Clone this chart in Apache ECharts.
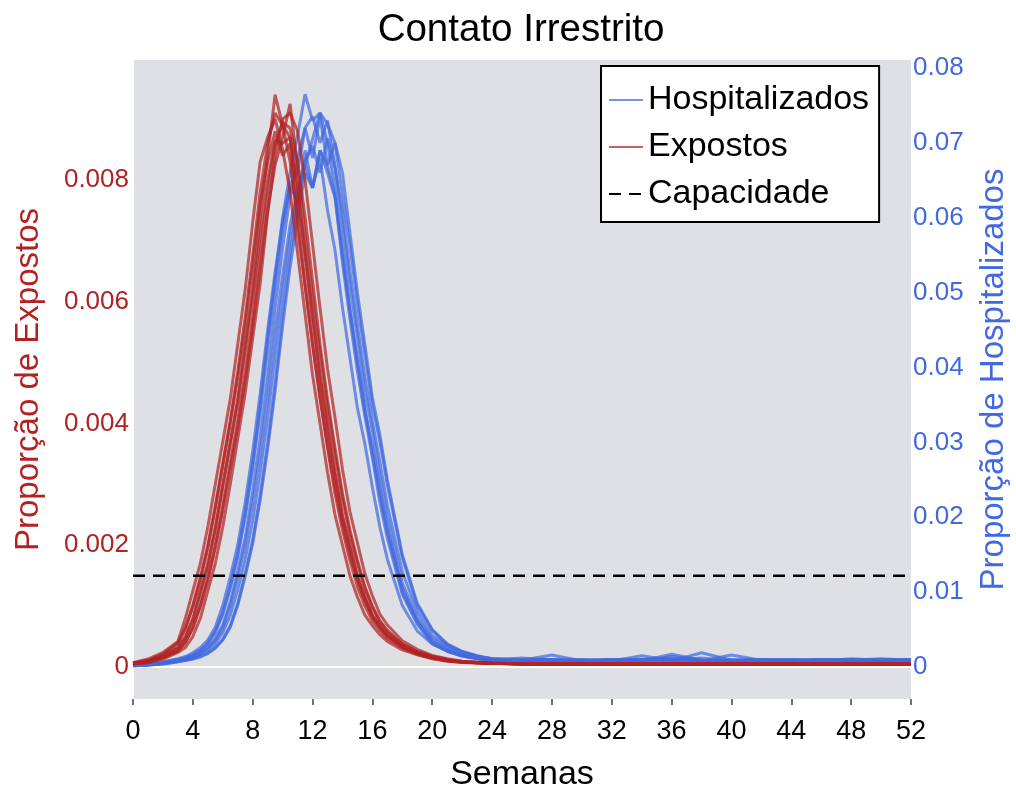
<!DOCTYPE html>
<html><head><meta charset="utf-8">
<script src="https://cdn.jsdelivr.net/npm/echarts@6/dist/echarts.min.js"></script>
<style>html,body{margin:0;padding:0;background:#fff}#c{width:1016px;height:798px}</style>
</head><body><div id="c"></div>
<script>
// Semanas (eixo x)
const weeks = [0,1,2,3, 3.5,4,4.5,5,5.5,6,6.5,7, 7.5,8,8.5,9,9.5,10,10.5,11, 11.5,12,12.5,13,13.5,14,14.5,15, 15.5,16,16.5,17, 18,19,20,21,22,23,24, 26,28,30,32,34,36,38,40,42,44,46,48,50,52];

// Proporção de Expostos, em unidades de 1e-4
const EXP_UNIT = 1e-4;
const expostos1 = [0.7,1.3,2.4,4.2, 8,12.5,17,23,30,37,44,53, 62,73,83,87,90,85,78,68, 58,48,40,32,25,20,15,11.5, 8.5,6.8,5.3,4.2, 2.8,2.0,1.35,0.95,0.75,0.65,0.6, 0.5,0.5,0.45,0.5,0.55,0.5,0.45,0.5,0.5,0.5,0.45,0.5,0.5,0.5];
const expostos2 = [0.65,1.1,2.1,4.0, 6.5,10.2,14.7,20,26.5,33.5,40.5,48.5, 57.5,67.5,78,86,91,89,83,74, 63,53,44,36,28.5,22.5,17.5,13.2, 10,7.6,6,4.7, 3.1,2.1,1.45,1.0,0.78,0.68,0.6, 0.5,0.55,0.5,0.5,0.45,0.5,0.55,0.5,0.5,0.45,0.5,0.5,0.55,0.5];
const expostos3 = [0.6,1.0,2.0,3.8, 6.2,9.8,14.2,19.5,26,33,40,47.5, 56,66,76,83,88,84,86,72, 62.5,53,44.5,36.5,29.5,23.5,18.5,14.2, 10.8,8.2,6.4,5.0, 3.3,2.2,1.5,1.05,0.8,0.7,0.6, 0.5,0.5,0.5,0.45,0.5,0.5,0.5,0.55,0.5,0.5,0.5,0.45,0.5,0.5];
const expostos4 = [0.6,0.9,1.8,3.2, 5.0,8.0,12.5,17,23,30,37,44, 53,62,74,84,94,89,87,79, 68,58,48,40,32,25,20,15, 11.5,8.5,6.8,5.3, 3.4,2.3,1.6,1.1,0.8,0.7,0.6, 0.5,0.5,0.55,0.5,0.5,0.45,0.5,0.5,0.5,0.55,0.5,0.5,0.45,0.5];
const expostos5 = [0.55,0.85,1.7,3.1, 4.8,7.6,12,16.5,22.5,29.5,36.5,43.5, 52,61,71,80,86.5,86,87,77, 67.5,57,47.5,39,31.5,24.5,19.5,14.8, 11.3,8.4,6.6,5.2, 3.4,2.3,1.6,1.1,0.8,0.7,0.6, 0.5,0.45,0.5,0.5,0.55,0.5,0.5,0.45,0.5,0.5,0.5,0.5,0.55,0.5];
const expostos6 = [0.55,0.8,1.55,2.7, 4.1,6.5,10.2,14.7,20,26.5,33.5,40.5, 48.5,57.5,68,78,86,89.5,88.5,83, 74,63.5,53,44,36,28.5,22.5,17.5, 13.2,10,7.6,6.0, 3.8,2.55,1.75,1.25,0.9,0.75,0.65, 0.55,0.5,0.5,0.5,0.45,0.5,0.5,0.5,0.55,0.5,0.5,0.45,0.5,0.5];
const expostos7 = [0.5,0.8,1.5,2.6, 4.0,6.3,9.9,14.2,19.5,25.7,32.5,39.3, 47,55.8,65.5,75,82.5,87,92.5,82, 71,61,51.5,42.7,35,27.6,21.8,17, 12.8,9.7,7.4,5.8, 3.7,2.5,1.7,1.2,0.9,0.75,0.65, 0.5,0.5,0.5,0.55,0.5,0.5,0.45,0.5,0.5,0.5,0.55,0.5,0.5,0.5];
const expostos8 = [0.5,0.7,1.3,2.4, 3.2,5.0,8.0,12.5,17,23,30,37.5, 45,54,63,74.5,84,90,91,88, 80,69.5,59,49,41,32.5,25.5,20.4, 15.3,11.7,8.7,6.9, 4.3,2.9,1.9,1.35,0.95,0.8,0.7, 0.55,0.5,0.5,0.5,0.5,0.55,0.5,0.45,0.5,0.5,0.5,0.5,0.5,0.55];

// Proporção de Hospitalizados, em unidades de 1e-3
const HOSP_UNIT = 1e-3;
const hosp1 = [0.25,0.4,0.7,1.1, 1.4,1.9,2.6,3.6,5.3,8.2,12,16.3, 22,28.8,36.5,45,52.8,59.5,64.3,62, 69,64,68,61,55.7,48,41.3,34.6, 29.8,24,18.7,14.4, 8.2,4.8,3.1,2.1,1.45,1.1,0.95, 0.9,1.6,0.8,0.9,1.0,1.2,0.8,0.9,1.0,0.8,0.9,0.8,1.0,0.9];
const hosp2 = [0.22,0.35,0.6,1.0, 1.25,1.65,2.25,3.1,4.6,7.0,10.5,14.7, 20,26.5,34,42.5,51,58.5,64.5,66, 72,68,73.5,67,63,54,46.5,39.5, 33.5,28,22,17.2, 9.7,5.7,3.1,2.1,1.45,1.1,0.95, 0.8,1.0,0.9,0.8,1.5,0.9,0.8,1.0,0.9,0.8,1.0,0.9,0.8,1.0];
const hosp3 = [0.2,0.33,0.55,0.95, 1.2,1.6,2.2,3.2,4.8,7.3,10.8,15.2, 20.6,27.3,35,44,52,60,66,71, 76.5,73,74,70,64,56,48,41, 34.5,28.5,23,18, 10,6,3.3,2.2,1.5,1.15,1.0, 0.9,0.8,1.0,0.9,0.8,1.7,0.9,0.8,0.9,1.0,0.8,0.9,1.1,0.9];
const hosp4 = [0.2,0.3,0.5,0.85, 1.05,1.35,1.8,2.5,3.5,5.2,8.1,11.9, 16.2,21.9,28.5,36,44.7,52.3,59,63.7, 67,64,69,66,62.7,55,47.5,40.8, 34.2,29.5,23.8,18.5, 10.5,6.2,3.5,2.4,1.6,1.15,0.95, 1.2,0.9,0.8,1.0,0.9,0.8,1.9,0.9,0.8,0.9,1.0,0.8,0.9,0.8];
const hosp5 = [0.2,0.3,0.5,0.9, 1.1,1.45,1.95,2.65,3.8,5.6,8.7,12.8, 17.3,23.5,30.6,38.8,48,56,63,68, 72,73.5,70,73,67,59,51,44, 36.7,31.6,25.5,20, 11.2,6.6,3.8,2.6,1.7,1.25,1.0, 0.9,1.0,0.8,0.9,1.0,0.9,1.2,0.8,0.9,1.0,0.9,1.0,0.8,0.9];
const hosp6 = [0.18,0.28,0.45,0.8, 1.0,1.25,1.65,2.25,3.1,4.6,6.9,10.3, 14.4,19.6,26,33.3,41.6,50,57.3,63.2, 67.6,69.6,66,70.6,66.6,60.8,52.9,45.6, 38.7,32.8,27.4,21.6, 12.7,7.4,4.2,2.9,2.0,1.4,1.1, 0.9,0.8,0.9,1.0,0.8,1.4,0.9,0.8,0.9,0.8,1.0,0.9,0.8,1.0];
const hosp7 = [0.18,0.25,0.4,0.7, 0.9,1.1,1.4,1.9,2.6,3.7,5.5,8.5, 12.5,17,23,30,38,47,55,62, 67,70.5,74,72.5,70,66,58,50, 43,36,31,25, 15,8.5,5,3.1,2.1,1.5,1.1, 1.0,0.9,0.8,0.9,1.0,0.9,0.8,1.6,0.9,0.8,0.9,1.0,0.9,0.8];
const hosp8 = [0.17,0.25,0.4,0.7, 0.85,1.05,1.35,1.8,2.5,3.6,5.3,8.2, 12.1,16.5,22.3,29.1,36.9,45.6,53.4,60, 66,64,69,67,70,63,56.3,48.5, 41.7,34.9,30.1,24.3, 14.6,8.2,4.9,3.0,2.0,1.45,1.1, 0.9,1.0,0.9,0.8,0.9,1.0,0.9,0.8,1.0,0.9,0.8,1.1,0.9,1.0];

// Capacidade (eixo esquerdo)
const capacidade = 0.0015;

// Marcas dos eixos
const leftTicks = [0, 0.002, 0.004, 0.006, 0.008];
const rightTicks = [0, 0.01, 0.02, 0.03, 0.04, 0.05, 0.06, 0.07, 0.08];

const expostosRuns = [expostos1, expostos2, expostos3, expostos4, expostos5, expostos6, expostos7, expostos8];
const hospRuns = [hosp1, hosp2, hosp3, hosp4, hosp5, hosp6, hosp7, hosp8];

const RED = '#b22222', BLUE = '#4169e1';
const FONT = '"Liberation Sans", Arial, Helvetica, sans-serif';
const xFirst = weeks[0], xLast = weeks[weeks.length - 1];

const series = [];
series.push({
  name: 'zero', type: 'line', yAxisIndex: 0, symbol: 'none', silent: true, z: 1,
  lineStyle: {color: '#ffffff', width: 2}, data: [[xFirst, 0], [xLast, 0]]
});
hospRuns.forEach(run => series.push({
  name: 'Hospitalizados', type: 'line', yAxisIndex: 1, symbol: 'none', silent: true, z: 2,
  itemStyle: {color: BLUE}, lineStyle: {color: BLUE, width: 3, opacity: 0.72},
  data: run.map((v, i) => [weeks[i], v * HOSP_UNIT])
}));
expostosRuns.forEach(run => series.push({
  name: 'Expostos', type: 'line', yAxisIndex: 0, symbol: 'none', silent: true, z: 3,
  itemStyle: {color: RED}, lineStyle: {color: RED, width: 3, opacity: 0.72},
  data: run.map((v, i) => [weeks[i], v * EXP_UNIT])
}));
series.push({
  name: 'Capacidade', type: 'line', yAxisIndex: 0, symbol: 'none', silent: true, z: 4,
  itemStyle: {color: '#000'}, lineStyle: {color: '#000', width: 2.5, type: [12, 8]},
  data: [[xFirst, capacidade], [xLast, capacidade]]
});

const chart = echarts.init(document.getElementById('c'), null, {renderer: 'canvas'});
chart.setOption({
  animation: false,
  backgroundColor: '#ffffff',
  title: {
    text: 'Contato Irrestrito', left: 516, top: 6, textAlign: 'center',
    textStyle: {fontSize: 38.5, fontWeight: 'normal', color: '#000', fontFamily: FONT}
  },
  legend: {
    data: ['Hospitalizados', 'Expostos', 'Capacidade'],
    orient: 'vertical', left: 601, top: 66,
    padding: [17, 10, 11, 7], itemWidth: 34, itemHeight: 14, itemGap: 13,
    backgroundColor: '#ffffff', borderColor: '#000', borderWidth: 2, borderRadius: 0,
    selectedMode: false,
    itemStyle: {opacity: 0},
    lineStyle: {width: 2},
    textStyle: {fontSize: 34, lineHeight: 34, color: '#000', fontFamily: FONT}
  },
  grid: {left: 133, right: 105, top: 60, bottom: 99, show: true, backgroundColor: '#dfe0e4', borderWidth: 0,
    containLabel: false, outerBoundsMode: 'none'},
  xAxis: {
    type: 'value', min: 0, max: 52, interval: 4,
    name: 'Semanas', nameLocation: 'middle', nameGap: 59,
    nameTextStyle: {fontSize: 34, color: '#000', fontFamily: FONT},
    axisLine: {show: false, onZero: false},
    axisTick: {show: true, length: 6, lineStyle: {color: '#444', width: 1.5}},
    axisLabel: {fontSize: 27, color: '#000', margin: 19, fontFamily: FONT},
    splitLine: {show: false}
  },
  yAxis: [{
    type: 'value', position: 'left', min: -0.000526, max: 0.009971,
    name: 'Proporção de Expostos', nameLocation: 'middle', nameGap: 88,
    nameTextStyle: {fontSize: 33, color: RED, fontFamily: FONT},
    axisLine: {show: true, onZero: false, lineStyle: {color: '#ffffff', width: 2}},
    axisTick: {show: false}, splitLine: {show: false},
    axisLabel: {customValues: leftTicks, color: RED, fontSize: 26, margin: 4, fontFamily: FONT,
      formatter: v => v === 0 ? '0' : v.toFixed(3)}
  }, {
    type: 'value', position: 'right', min: -0.004274, max: 0.08107,
    name: 'Proporção de Hospitalizados', nameLocation: 'middle', nameGap: 66,
    nameTextStyle: {fontSize: 33, color: BLUE, fontFamily: FONT},
    axisLine: {show: false, onZero: false},
    axisTick: {show: false}, splitLine: {show: false},
    axisLabel: {customValues: rightTicks, color: BLUE, fontSize: 26, margin: 2, fontFamily: FONT,
      formatter: v => v === 0 ? '0' : v.toFixed(2)}
  }],
  series: series
});
</script></body></html>
